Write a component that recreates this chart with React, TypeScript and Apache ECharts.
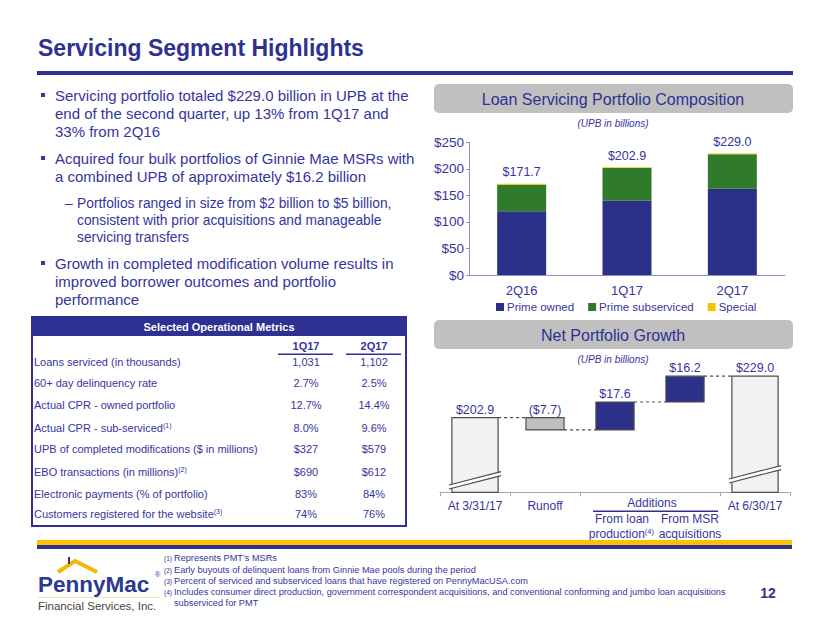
import React, { useEffect, useRef } from 'react';
import * as echarts from 'echarts';

// ---- Bar chart data (UPB in billions) ----
const barCategories = ['2Q16', '1Q17', '2Q17'];
const primeOwned = [120.0, 140.5, 162.5];
const primeSubserviced = [50.0, 61.0, 65.0];
const special = [1.7, 1.4, 1.5];
const portfolioTotals = [171.7, 202.9, 229.0];

// ---- Waterfall data (UPB in billions) ----
const wfCategories = ['At 3/31/17', 'Runoff', 'From loan production', 'From MSR acquisitions', 'At 6/30/17'];
const wfStart = 202.9;
const wfChanges = [-7.7, 17.6, 16.2];
const wfEnd = 229.0;
const wfLabels = ['$202.9', '($7.7)', '$17.6', '$16.2', '$229.0'];
const wfAxisMin = 156;
const wfAxisMax = 239.2;

// ---- Table data ----
const metricNames = [
  'Loans serviced (in thousands)',
  '60+ day delinquency rate',
  'Actual CPR - owned portfolio',
  'Actual CPR - sub-serviced',
  'UPB of completed modifications ($ in millions)',
  'EBO transactions (in millions)',
  'Electronic payments (% of portfolio)',
  'Customers registered for the website',
];
const metricNotes = ['', '', '', '(1)', '', '(2)', '', '(3)'];
const metrics1Q17 = ['1,031', '2.7%', '12.7%', '8.0%', '$327', '$690', '83%', '74%'];
const metrics2Q17 = ['1,102', '2.5%', '14.4%', '9.6%', '$579', '$612', '84%', '76%'];
const metricColumns = ['1Q17', '2Q17'];

const bullets = [
  { level: 0, lines: ['Servicing portfolio totaled $229.0 billion in UPB at the', 'end of the second quarter, up 13% from 1Q17 and', '33% from 2Q16'] },
  { level: 0, lines: ['Acquired four bulk portfolios of Ginnie Mae MSRs with', 'a combined UPB of approximately $16.2 billion'] },
  { level: 1, lines: ['Portfolios ranged in size from $2 billion to $5 billion,', 'consistent with prior acquisitions and manageable', 'servicing transfers'] },
  { level: 0, lines: ['Growth in completed modification volume results in', 'improved borrower outcomes and portfolio', 'performance'] },
];
const bulletLineY = [[95, 113, 131], [158, 176], [203, 220, 237], [263, 281, 299]];

const footnotes = [
  ['(1)', 'Represents PMT\u2019s MSRs'],
  ['(2)', 'Early buyouts of delinquent loans from Ginnie Mae pools during the period'],
  ['(3)', 'Percent of serviced and subserviced loans that have registered on PennyMacUSA.com'],
  ['(4)', 'Includes consumer direct production, government correspondent acquisitions, and conventional conforming and jumbo loan acquisitions'],
  ['', 'subserviced for PMT'],
];
const footnoteY = [558, 570, 581, 592, 603];

const SANS = '"Liberation Sans", Arial, Helvetica, sans-serif';
const NARROW = '"Liberation Sans Narrow", "Liberation Sans", Arial, sans-serif';
const NAVY = '#2E3192';
const TXT = '#3535A0';
const BAR_NAVY = '#2B3088';
const GREEN = '#2F7A2B';
const YELLOW = '#F2C500';

function buildWaterfall() {
  const rows: number[][] = [];
  let running = wfStart;
  rows.push([0, wfAxisMin, wfStart, 0, running]);
  wfChanges.forEach((c, k) => {
    const lo = Math.min(running, running + c);
    const hi = Math.max(running, running + c);
    running = running + c;
    rows.push([k + 1, lo, hi, c < 0 ? 1 : 2, running]);
  });
  rows.push([wfChanges.length + 1, wfAxisMin, wfEnd, 0, -1]);
  return rows;
}

function txt(text: string, x: number, y: number, size: number, opts: any = {}) {
  return {
    type: 'text',
    style: {
      text,
      x,
      y,
      fill: opts.fill || TXT,
      font: `${opts.italic ? 'italic ' : ''}${opts.bold ? 'bold ' : ''}${size}px ${opts.family || SANS}`,
      textAlign: opts.align || 'left',
      textVerticalAlign: 'middle',
      rich: opts.rich,
    },
    silent: true,
  };
}

export default function App() {
  const ref = useRef<HTMLDivElement>(null);

  useEffect(() => {
    if (!ref.current) return;
    const chart = echarts.init(ref.current, undefined, { renderer: 'svg' });
    const wfData = buildWaterfall();

    const g: any[] = [];
    // Title
    g.push(txt('Servicing Segment Highlights', 38, 48, 23, { bold: true, family: NARROW, fill: NAVY }));
    g.push({ type: 'rect', shape: { x: 37, y: 71, width: 756, height: 4 }, style: { fill: NAVY }, silent: true });

    // Bullets
    bullets.forEach((b, bi) => {
      const ys = bulletLineY[bi];
      if (b.level === 0) {
        g.push({ type: 'rect', shape: { x: 41, y: ys[0] - 2, width: 4, height: 4 }, style: { fill: TXT }, silent: true });
        b.lines.forEach((l, li) => g.push(txt(l, 55, ys[li], 15)));
      } else {
        g.push(txt('\u2013', 65, ys[0], 13.8));
        b.lines.forEach((l, li) => g.push(txt(l, 77, ys[li], 13.8)));
      }
    });

    // Header boxes
    const headers = [
      { t: 'Loan Servicing Portfolio Composition', y: 84 },
      { t: 'Net Portfolio Growth', y: 320 },
    ];
    headers.forEach((h) => {
      g.push({ type: 'rect', shape: { x: 434, y: h.y, width: 359, height: 29, r: 5 }, style: { fill: '#C0C0C0' }, silent: true });
      g.push(txt(h.t, 613, h.y + 15, 16, { align: 'center', fill: NAVY }));
    });
    g.push(txt('(UPB in billions)', 613, 123, 10, { align: 'center', italic: true }));
    g.push(txt('(UPB in billions)', 613, 359, 10, { align: 'center', italic: true }));

    // Table
    g.push({ type: 'rect', shape: { x: 32, y: 317, width: 374, height: 209 }, style: { fill: '#fff', stroke: NAVY, lineWidth: 2 }, silent: true });
    g.push({ type: 'rect', shape: { x: 32, y: 317, width: 374, height: 19 }, style: { fill: NAVY }, silent: true });
    g.push(txt('Selected Operational Metrics', 219, 327, 11, { align: 'center', bold: true, fill: '#fff' }));
    const colX = [306, 374];
    metricColumns.forEach((c, ci) => {
      g.push(txt(c, colX[ci], 346, 11, { align: 'center', bold: true }));
      g.push({ type: 'rect', shape: { x: colX[ci] - 28, y: 353.5, width: 55, height: 1.5 }, style: { fill: NAVY }, silent: true });
    });
    const rowY = [362, 383, 405, 428, 449, 472, 494, 514];
    const supRich = { sup: { fontSize: 7, fontFamily: SANS, fill: TXT, verticalAlign: 'top', lineHeight: 7 }, m: { fontSize: 11, fontFamily: SANS, fill: TXT, lineHeight: 13 } };
    metricNames.forEach((n, i) => {
      const t = metricNotes[i] ? `{m|${n}}{sup|${metricNotes[i]}}` : `{m|${n}}`;
      g.push(txt(t, 34, rowY[i], 11, { rich: supRich }));
      g.push(txt(metrics1Q17[i], colX[0], rowY[i], 11, { align: 'center' }));
      g.push(txt(metrics2Q17[i], colX[1], rowY[i], 11, { align: 'center' }));
    });

    // Waterfall group labels
    g.push(txt('Additions', 652, 503, 12, { align: 'center' }));
    g.push({ type: 'rect', shape: { x: 593, y: 510.5, width: 125, height: 1.5 }, style: { fill: NAVY }, silent: true });
    g.push(txt('From loan', 622, 519, 12, { align: 'center' }));
    g.push(txt('{m|production}{sup|(4)}', 654, 534, 12, { align: 'right', rich: { m: { fontSize: 12, fontFamily: SANS, fill: TXT, lineHeight: 14 }, sup: { fontSize: 7.5, fontFamily: SANS, fill: TXT, verticalAlign: 'top', lineHeight: 7 } } }));
    g.push(txt('From MSR', 690, 519, 12, { align: 'center' }));
    g.push(txt('acquisitions', 690, 534, 12, { align: 'center' }));

    // Footer band
    g.push({ type: 'rect', shape: { x: 37, y: 540, width: 755, height: 5 }, style: { fill: '#FFC000' }, silent: true });
    g.push({ type: 'rect', shape: { x: 37, y: 545, width: 755, height: 4 }, style: { fill: NAVY }, silent: true });

    // Footnotes
    const fnRich = { sup: { fontSize: 6.5, fontFamily: SANS, fill: TXT, verticalAlign: 'top', lineHeight: 6 }, m: { fontSize: 9.2, fontFamily: SANS, fill: TXT, lineHeight: 11 } };
    footnotes.forEach((f, i) => {
      if (f[0]) g.push(txt(`{sup|${f[0]}}`, 164, footnoteY[i], 9.2, { rich: fnRich }));
      g.push(txt(`{m|${f[1]}}`, 174, footnoteY[i], 9.2, { rich: fnRich }));
    });
    g.push(txt('12', 768, 593, 14, { bold: true, align: 'center', fill: NAVY }));

    // Logo
    g.push({ type: 'polyline', shape: { points: [[58, 572], [75, 561], [97, 572]] }, style: { stroke: '#F5B800', lineWidth: 4, fill: 'none' }, silent: true });
    g.push({ type: 'rect', shape: { x: 68, y: 557, width: 2, height: 7 }, style: { fill: NAVY }, silent: true });
    g.push(txt('PennyMac', 38, 584, 22.5, { fill: '#2B3990', bold: true }));
    g.push(txt('\u00AE', 155, 574, 7, { fill: '#2B3990' }));
    g.push({ type: 'rect', shape: { x: 38, y: 597, width: 122, height: 1 }, style: { fill: '#F3E3A0' }, silent: true });
    g.push(txt('Financial Services, Inc.', 38, 606, 11.5, { fill: '#444' }));

    const option: any = {
      animation: false,
      backgroundColor: '#ffffff',
      graphic: { elements: g },
      legend: {
        data: ['Prime owned', 'Prime subserviced', 'Special'],
        left: 491,
        top: 296,
        icon: 'rect',
        itemWidth: 8,
        itemHeight: 8,
        itemGap: 14,
        textStyle: { fontSize: 11.5, color: TXT, fontFamily: SANS, padding: [0, 0, 0, -2] },
        selectedMode: false,
      },
      grid: [
        { left: 469, right: 45, top: 142.3, bottom: 348 },
        { left: 440, right: 40, top: 360, bottom: 130.7 },
      ],
      xAxis: [
        {
          type: 'category',
          gridIndex: 0,
          data: barCategories,
          axisLine: { lineStyle: { color: '#8C8FC8', width: 1 } },
          axisTick: { show: false },
          axisLabel: { fontSize: 13, color: TXT, fontFamily: SANS, margin: 9 },
        },
        {
          type: 'category',
          gridIndex: 1,
          data: wfCategories,
          axisLine: { lineStyle: { color: '#A6A6A6', width: 1 } },
          axisTick: { show: true, length: 4, interval: (idx: number) => idx !== 3, lineStyle: { color: '#A6A6A6' } },
          axisLabel: {
            fontSize: 12,
            color: TXT,
            fontFamily: SANS,
            margin: 8,
            interval: 0,
            formatter: (v: string, idx: number) => (idx === 0 || idx === 1 || idx === 4 ? v : ''),
          },
        },
      ],
      yAxis: [
        {
          type: 'value',
          gridIndex: 0,
          min: 0,
          max: 250,
          interval: 50,
          axisLine: { show: true, lineStyle: { color: '#8C8FC8' } },
          axisTick: { show: true, length: 3, lineStyle: { color: '#8C8FC8' } },
          splitLine: { show: false },
          axisLabel: { fontSize: 13.5, color: TXT, fontFamily: SANS, margin: 5, formatter: (v: number) => '$' + v },
        },
        { type: 'value', gridIndex: 1, min: wfAxisMin, max: wfAxisMax, show: false, splitLine: { show: false } },
      ],
      series: [
        { name: 'Prime owned', type: 'bar', stack: 'p', barWidth: 49, data: primeOwned, itemStyle: { color: BAR_NAVY }, xAxisIndex: 0, yAxisIndex: 0 },
        { name: 'Prime subserviced', type: 'bar', stack: 'p', barWidth: 49, data: primeSubserviced, itemStyle: { color: GREEN }, xAxisIndex: 0, yAxisIndex: 0 },
        {
          name: 'Special', type: 'bar', stack: 'p', barWidth: 49, data: special, itemStyle: { color: YELLOW }, xAxisIndex: 0, yAxisIndex: 0,
          label: {
            show: true, position: 'top', distance: 5, fontSize: 12.5, color: TXT, fontFamily: SANS,
            formatter: (p: any) => '$' + portfolioTotals[p.dataIndex].toFixed(1),
          },
        },
        {
          type: 'custom',
          xAxisIndex: 1,
          yAxisIndex: 1,
          data: wfData,
          encode: { x: 0, y: [1, 2] },
          renderItem: (params: any, api: any) => {
            const i = api.value(0);
            const lo = api.value(1);
            const hi = api.value(2);
            const kind = api.value(3);
            const level = api.value(4);
            const band = api.size([1, 0])[0];
            const fracOf = (k: number) => (k === 0 ? 0.66 : 0.545);
            const w = band * fracOf(kind);
            const pt = api.coord([i, hi]);
            const pb = api.coord([i, lo]);
            const x = pt[0] - w / 2;
            const children: any[] = [];
            const fill = kind === 0 ? '#F2F2F2' : kind === 1 ? '#BFBFBF' : BAR_NAVY;
            children.push({ type: 'rect', shape: { x, y: pt[1], width: w, height: pb[1] - pt[1] }, style: { fill, stroke: '#4D4D4D', lineWidth: 1.2 } });
            if (kind === 0) {
              const d0 = i === 0 ? 8 : 14;
              const d1 = d0 + 12;
              const gap = 4;
              const yl = pb[1] - d0;
              const yr = pb[1] - d1;
              children.push({ type: 'polygon', shape: { points: [[x - 3, yl + 0.7], [x + w + 3, yr - 0.7], [x + w + 3, yr - 0.7 + gap], [x - 3, yl + 0.7 + gap]] }, style: { fill: '#ffffff' } });
              children.push({ type: 'line', shape: { x1: x - 3, y1: yl + 0.7, x2: x + w + 3, y2: yr - 0.7 }, style: { stroke: '#4D4D4D', lineWidth: 1.2 } });
              children.push({ type: 'line', shape: { x1: x - 3, y1: yl + 0.7 + gap, x2: x + w + 3, y2: yr - 0.7 + gap }, style: { stroke: '#4D4D4D', lineWidth: 1.2 } });
            }
            children.push({ type: 'text', style: { text: wfLabels[i], x: pt[0], y: pt[1] - 8, textAlign: 'center', textVerticalAlign: 'middle', fill: TXT, font: `12.5px ${SANS}` } });
            if (level >= 0 && i < wfLabels.length - 1) {
              const nextKind = i + 1 === wfLabels.length - 1 ? 0 : 1;
              const pn = api.coord([i + 1, level]);
              const nx = pn[0] - (band * fracOf(nextKind)) / 2;
              children.push({ type: 'line', shape: { x1: x + w, y1: pn[1], x2: nx, y2: pn[1] }, style: { stroke: '#4D4D4D', lineWidth: 1.2, lineDash: [3, 3] } });
            }
            return { type: 'group', children };
          },
        },
      ],
    };
    chart.setOption(option);
    return () => chart.dispose();
  }, []);

  return <div ref={ref} style={{ position: 'absolute', left: 0, top: 0, width: 830, height: 623, background: '#fff' }} />;
}
